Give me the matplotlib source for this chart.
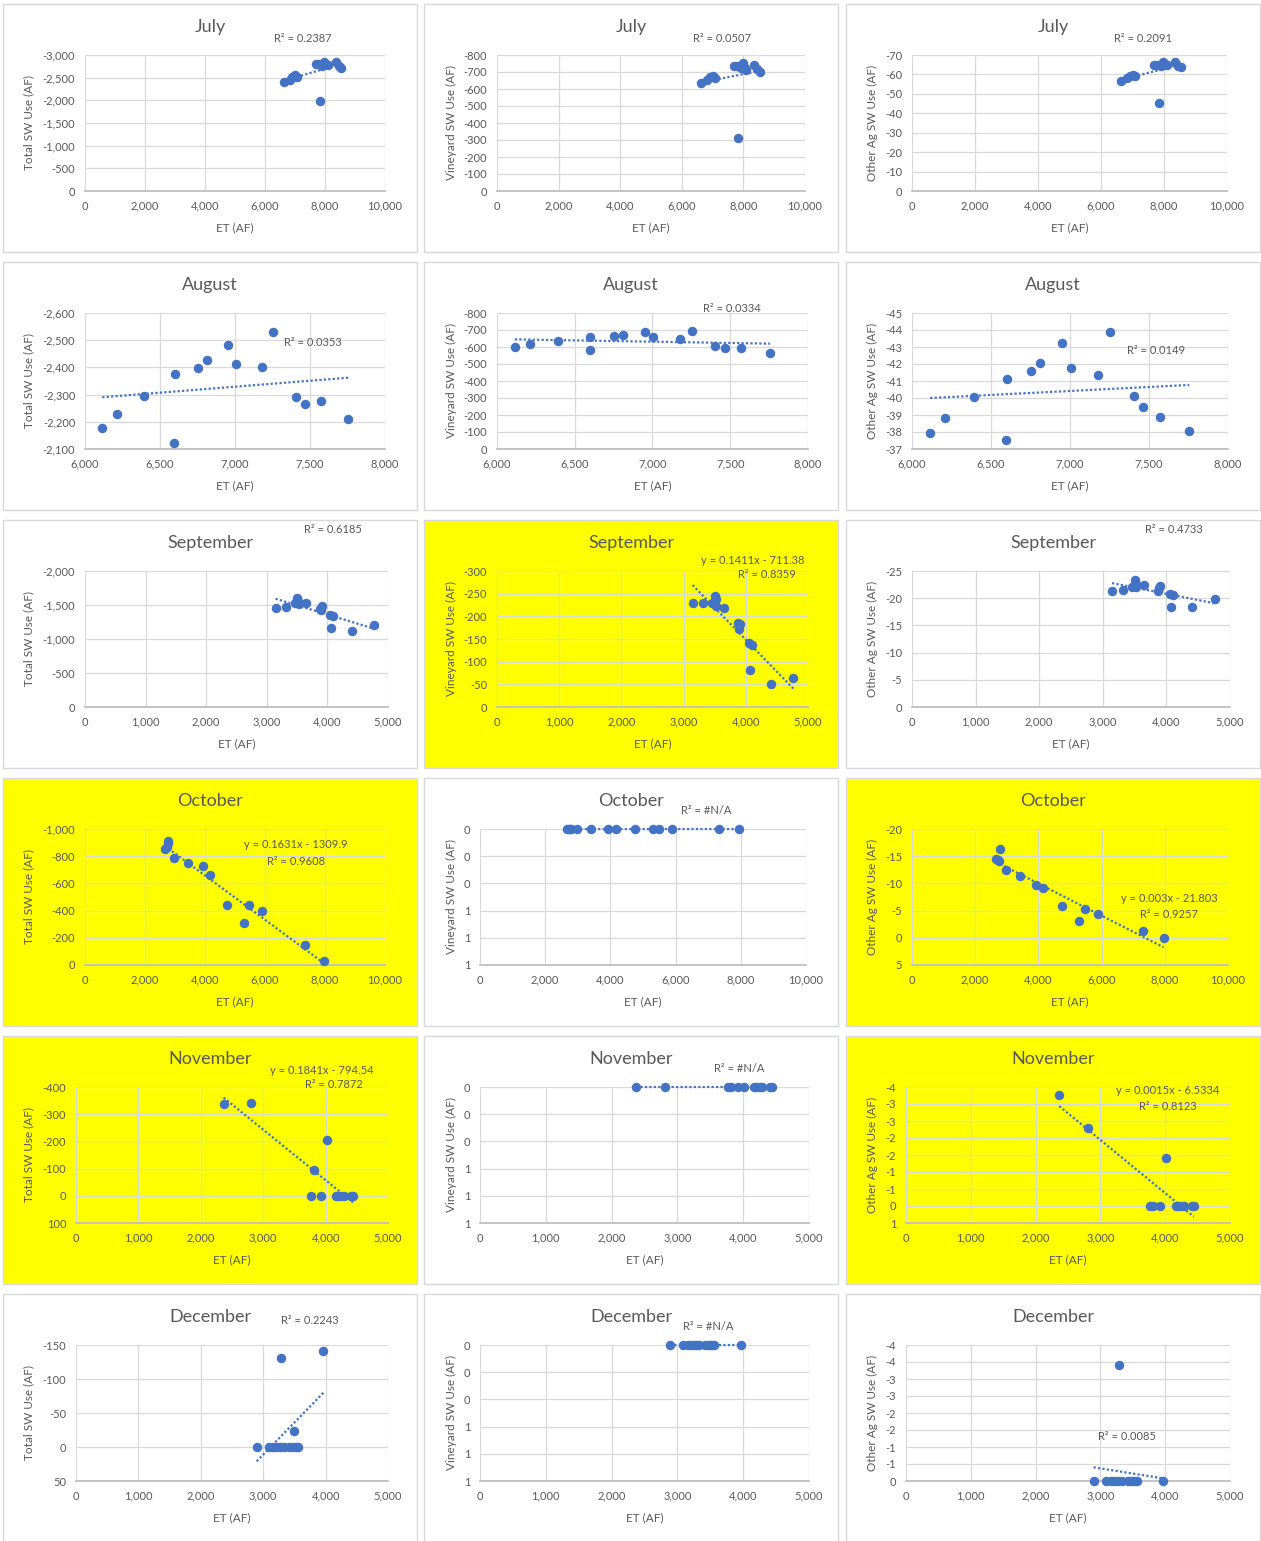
import math

import numpy as np
import matplotlib
matplotlib.use('Agg')
import matplotlib.pyplot as plt
from matplotlib.patches import Rectangle
from matplotlib.ticker import FuncFormatter

plt.rcParams['font.family'] = ['Lato', 'DejaVu Sans']

# values (ET in AF, SW use in AF, negative = use)
jul_et = [6630, 6820, 6910, 7000, 7070, 7690, 7780, 7830, 7910, 7980, 8040, 8100, 8360, 8450, 8530]
jul_total = [-2402, -2454, -2513, -2550, -2513, -2800, -2800, -1982, -2749, -2852, -2800, -2786, -2845, -2763, -2719]
jul_vine = [-633, -652, -668, -674, -662, -733, -733, -312, -723, -752, -723, -713, -743, -719, -699]
jul_other = [-56.6, -58.0, -59.0, -59.6, -59.0, -64.9, -64.9, -45.4, -64.5, -66.4, -65.4, -65.0, -66.3, -64.2, -63.7]

aug_et = [6115, 6210, 6390, 6600, 6595, 6750, 6810, 6950, 7005, 7180, 7255, 7405, 7465, 7570, 7755]
aug_total = [-2177, -2230, -2295, -2376, -2122, -2397, -2428, -2481, -2412, -2400, -2531, -2290, -2265, -2278, -2212]
aug_vine = [-601, -619, -637, -658, -580, -664, -672, -690, -660, -646, -697, -605, -597, -595, -564]
aug_other = [-37.92, -38.85, -40.03, -41.09, -37.53, -41.56, -42.07, -43.21, -41.77, -41.34, -43.86, -40.12, -39.48, -38.87, -38.06]

sep_et = [3145, 3310, 3460, 3505, 3515, 3525, 3655, 3870, 3890, 3905, 4050, 4065, 4100, 4405, 4765]
sep_total = [-1450, -1464, -1523, -1602, -1563, -1514, -1533, -1440, -1420, -1480, -1356, -1165, -1341, -1111, -1209]
sep_vine = [-229, -229, -229, -245, -239, -223, -219, -185, -171, -183, -142, -82, -137, -50, -63]
sep_other = [-21.4, -21.5, -22.1, -23.3, -22.7, -22.1, -22.4, -21.3, -21.8, -22.2, -20.7, -18.4, -20.5, -18.3, -19.9]

oct_et = [2660, 2720, 2760, 2780, 2970, 3420, 3925, 4160, 4740, 5295, 5480, 5900, 7325, 7960]
oct_total = [-850, -870, -895, -910, -789, -749, -727, -663, -442, -307, -442, -400, -147, -29]
oct_vine = [0, 0, 0, 0, 0, 0, 0, 0, 0, 0, 0, 0, 0, 0]
oct_other = [-14.4, -14.3, -14.2, -16.4, -12.4, -11.3, -9.7, -9.1, -5.8, -3.0, -5.3, -4.3, -1.3, 0.0]

nov_et = [2365, 2812, 3762, 3812, 3920, 4018, 4165, 4200, 4250, 4290, 4410, 4440]
nov_total = [-337, -343, 0, -95, 0, -204, 0, 0, 0, 0, 0, 0]
nov_vine = [0, 0, 0, 0, 0, 0, 0, 0, 0, 0, 0, 0]
nov_other = [-3.26, -2.30, 0, 0, 0, -1.41, 0, 0, 0, 0, 0, 0]

dec_et = [2895, 3085, 3160, 3210, 3270, 3285, 3330, 3420, 3475, 3490, 3530, 3560, 3965]
dec_total = [0, 0, 0, 0, 0, -131, 0, 0, 0, -23, 0, 0, -141.5]
dec_vine = [0, 0, 0, 0, 0, 0, 0, 0, 0, 0, 0, 0, 0]
dec_other = [0, 0, 0, 0, 0, -3.4, 0, 0, 0, 0, 0, 0, 0]

months = ['July', 'August', 'September', 'October', 'November', 'December']
et_data = [jul_et, aug_et, sep_et, oct_et, nov_et, dec_et]
use_data = [
    [jul_total, jul_vine, jul_other],
    [aug_total, aug_vine, aug_other],
    [sep_total, sep_vine, sep_other],
    [oct_total, oct_vine, oct_other],
    [nov_total, nov_vine, nov_other],
    [dec_total, dec_vine, dec_other],
]
y_titles = ['Total SW Use (AF)', 'Vineyard SW Use (AF)', 'Other Ag SW Use (AF)']

# trendline labels: (text, x px, y px)
fit_labels = [
    [[('R² = 0.2387', 303, 38)], [('R² = 0.0507', 722, 38)], [('R² = 0.2091', 1143, 38)]],
    [[('R² = 0.0353', 313, 342)], [('R² = 0.0334', 732, 308)], [('R² = 0.0149', 1156, 350)]],
    [[('R² = 0.6185', 333, 530)],
     [('y = 0.1411x - 711.38', 753, 560), ('R² = 0.8359', 767, 575)],
     [('R² = 0.4733', 1174, 530)]],
    [[('y = 0.1631x - 1309.9', 296, 845), ('R² = 0.9608', 296, 861)],
     [('R² = #N/A', 706, 810)],
     [('y = 0.003x - 21.803', 1169, 898), ('R² = 0.9257', 1169, 914)]],
    [[('y = 0.1841x - 794.54', 322, 1070), ('R² = 0.7872', 334, 1085)],
     [('R² = #N/A', 739, 1069)],
     [('y = 0.0015x - 6.5334', 1168, 1091), ('R² = 0.8123', 1168, 1107)]],
    [[('R² = 0.2243', 310, 1320)], [('R² = #N/A', 708, 1327)], [('R² = 0.0085', 1127, 1436)]],
]

# axis ranges: x (min, max, step); y per column (top, bottom, step) -> reversed axis
x_ranges = [(0, 10000, 2000), (6000, 8000, 500), (0, 5000, 1000),
            (0, 10000, 2000), (0, 5000, 1000), (0, 5000, 1000)]
y_ranges = [
    [(-3000, 0, 500), (-800, 0, 100), (-70, 0, 10)],
    [(-2600, -2100, 100), (-800, 0, 100), (-45, -37, 1)],
    [(-2000, 0, 500), (-300, 0, 50), (-25, 0, 5)],
    [(-1000, 0, 200), (0, 1, 0.2), (-20, 5, 5)],
    [(-400, 100, 100), (0, 1, 0.2), (-3.5, 0.5, 0.5)],
    [(-150, 50, 50), (0, 1, 0.2), (-4, 0, 0.5)],
]

# layout in pixels
W, H = 1261, 1541
box_x = [(3, 417), (424, 838), (846, 1260)]
plot_x = [
    [(85, 385), (497, 805), (912, 1227)],
    [(85, 385), (497, 808), (912, 1228)],
    [(85, 388), (497, 808), (912, 1230)],
    [(85, 385), (480, 806), (912, 1228)],
    [(76, 388), (480, 809), (906, 1230)],
    [(76, 388), (480, 809), (906, 1230)],
]
ylabel_x = [29, 451, 872]
yellow = {(2, 1), (3, 0), (3, 2), (4, 0), (4, 2)}

TXT = '#595959'
BLUE = '#4472C4'
GRID = '#d9d9d9'


def excel_num(v, pos=None):
    v = round(v, 6)
    n = int(math.floor(abs(v) + 0.5))
    if n == 0:
        return '0'
    s = f'{n:,}'
    return '-' + s if v < 0 else s


def fx(px):
    return px / W


def fy(py):
    return 1 - py / H


fig = plt.figure(figsize=(W / 100, H / 100), dpi=100)
fig.patch.set_facecolor('white')

for r in range(6):
    box_top = 4 + 258 * r
    p_top = 55 + 258 * r
    p_bot = 191 + 258 * r
    xmin, xmax, xstep = x_ranges[r]
    et = et_data[r]
    for c in range(3):
        bx0, bx1 = box_x[c]
        face = '#ffff00' if (r, c) in yellow else 'white'
        fig.add_artist(Rectangle((fx(bx0), fy(box_top + 248)), (bx1 - bx0) / W, 248 / H,
                                 transform=fig.transFigure, facecolor=face,
                                 edgecolor=GRID, lw=1, zorder=-5))
        fig.text(fx((bx0 + bx1) / 2), fy(27 + 258 * r), months[r], ha='center', va='center',
                 fontsize=13, color=TXT)

        x0, x1 = plot_x[r][c]
        ax = fig.add_axes([fx(x0), fy(p_bot), (x1 - x0) / W, (p_bot - p_top) / H])
        ax.set_facecolor('none')

        vals = use_data[r][c]
        ytop, ybot, ystep = y_ranges[r][c]

        coef = np.polyfit(et, vals, 1)
        xs = np.array([min(et), max(et)])
        ax.plot(xs, np.polyval(coef, xs), linestyle=(0, (1, 1)), lw=1.6, color=BLUE,
                zorder=2, clip_on=False)
        ax.plot(et, vals, 'o', color=BLUE, ms=5.8, mec=BLUE, zorder=3, clip_on=False)

        ax.set_xlim(xmin, xmax)
        ax.set_xticks(np.arange(xmin, xmax + xstep / 2, xstep))
        ax.set_ylim(ybot, ytop)
        ax.set_yticks(np.arange(ytop, ybot + ystep / 2, ystep))
        ax.xaxis.set_major_formatter(FuncFormatter(excel_num))
        ax.yaxis.set_major_formatter(FuncFormatter(excel_num))

        ax.grid(True, color=GRID, lw=0.9)
        ax.set_axisbelow(True)
        for side in ['left', 'top', 'right']:
            ax.spines[side].set_visible(False)
        ax.spines['bottom'].set_color('#bfbfbf')
        ax.spines['bottom'].set_linewidth(1.3)
        ax.tick_params(length=0, labelsize=8, labelcolor=TXT, pad=7)

        ax.set_xlabel('ET (AF)', fontsize=8.5, color=TXT)
        ax.xaxis.label.set_va('center')
        ax.xaxis.set_label_coords(0.5, -(228 - 191) / 136)
        ax.set_ylabel(y_titles[c], fontsize=8.5, color=TXT)
        ax.yaxis.label.set_va('center')
        ax.yaxis.set_label_coords((ylabel_x[c] - x0) / (x1 - x0), 0.5)

        for txt, tx, ty in fit_labels[r][c]:
            fig.text(fx(tx), fy(ty), txt, ha='center', va='center', fontsize=8, color=TXT)

fig.savefig('out.png', dpi=100, facecolor='white')
